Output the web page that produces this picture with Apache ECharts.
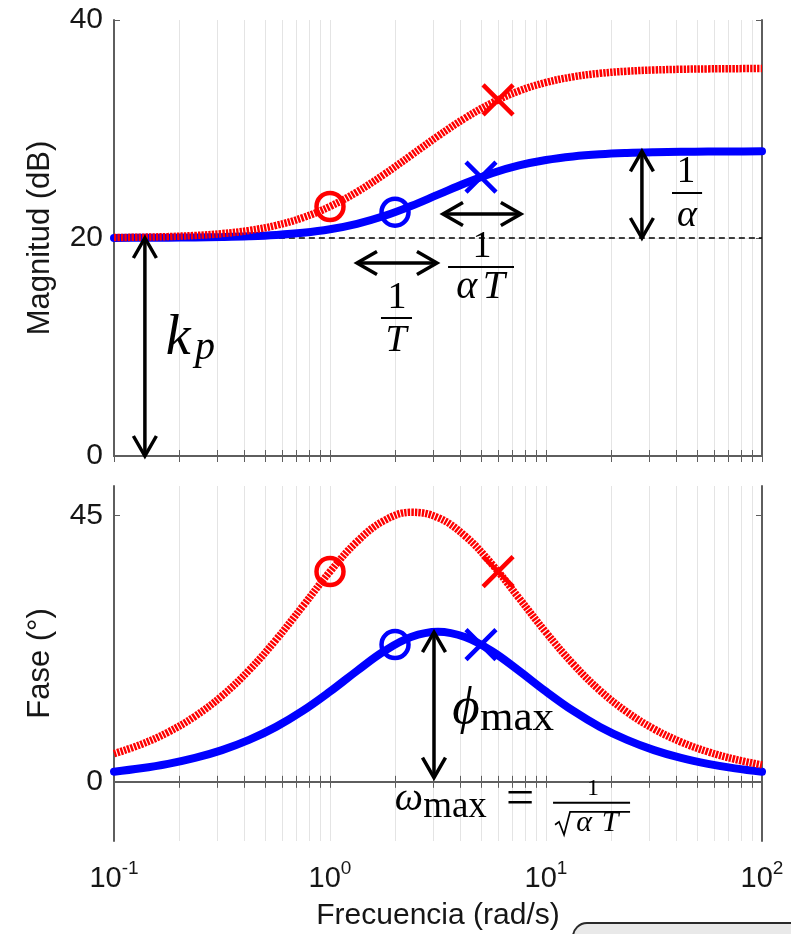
<!DOCTYPE html>
<html>
<head>
<meta charset="utf-8">
<script src="https://cdn.jsdelivr.net/npm/echarts@6/dist/echarts.min.js"></script>
<style>
  html, body { margin: 0; padding: 0; background: #fff; }
  #chart { width: 791px; height: 934px; }
</style>
</head>
<body>
<div id="chart"></div>
<script>
// ---- Frequency grid (rad/s), 8 samples per decade ----
const freq = [0.1, 0.13335, 0.17783, 0.23714, 0.31623, 0.42170, 0.56234, 0.74989,
  1, 1.3335, 1.7783, 2.3714, 3.1623, 4.2170, 5.6234, 7.4989,
  10, 13.335, 17.783, 23.714, 31.623, 42.170, 56.234, 74.989, 100];

// ---- Compensator A (blue): 1/T = 2, 1/(alpha T) = 5 ----
const magBlue = [20.009, 20.016, 20.029, 20.051, 20.090, 20.158, 20.276, 20.475,
  20.799, 21.299, 22.013, 22.932, 23.979, 25.029, 25.946, 26.660,
  27.160, 27.484, 27.683, 27.800, 27.869, 27.908, 27.930, 27.943, 27.950];
const phaseBlue = [1.716, 2.287, 3.044, 4.047, 5.366, 7.085, 9.288, 12.024,
  15.255, 18.76, 22.07, 24.49, 25.38, 24.48, 22.07, 18.77,
  15.26, 12.02, 9.28, 7.09, 5.36, 4.04, 3.04, 2.28, 1.71];

// ---- Compensator B (red): 1/T = 1, 1/(alpha T) = 6 ----
const magRed = [20.042, 20.074, 20.131, 20.231, 20.402, 20.689, 21.155, 21.870,
  22.891, 24.228, 25.828, 27.581, 29.349, 30.994, 32.397, 33.491,
  34.271, 34.786, 35.109, 35.302, 35.414, 35.479, 35.515, 35.536, 35.548];
const phaseRed = [4.756, 6.323, 8.385, 11.077, 14.531, 18.848, 24.000, 29.736,
  35.538, 40.60, 44.14, 45.56, 44.66, 41.56, 36.78, 31.06,
  25.25, 19.94, 15.42, 11.79, 8.93, 6.74, 5.07, 3.81, 2.86];

// ---- Corner frequencies: [zero (circle), pole (cross)] ----
const cornerFreqBlue = [2, 5];
const cornerMagBlue = [22.366, 25.593];
const cornerPhaseBlue = [23.20, 23.20];
const cornerFreqRed = [1, 6];
const cornerMagRed = [22.891, 32.672];
const cornerPhaseRed = [35.54, 35.54];

// ---- Static gain reference (dashed, 20 dB) ----
const refLineFreq = [0.145, 100];
const refLineMag = [20, 20];

// ---- Tick values ----
const decadeTicks = [0.1, 1, 10, 100];
const magTicks = [0, 20, 40];
const phaseTicks = [0, 45];
const logTicks = [];
[0.1, 1, 10].forEach(d => { for (let k = 1; k <= 9; k++) logTicks.push(+(d * k).toPrecision(3)); });
logTicks.push(100);

// ---- Annotation anchors (data units) ----
// arrows: [x1, y1, x2, y2]
const arrowsMag = [[0.139, 20, 0.139, 0], [27.8, 27.95, 27.8, 20], [1.333, 17.7, 3.127, 17.7], [3.334, 22.2, 7.65, 22.2]];
const arrowsPhase = [[3.03, 25.3, 3.03, 0.7]];
// text: [string, x, y(middle), fontSize, italic]
const annotationTextMag = [
  ['k', 0.198, 10.73, 56, true], ['p', 0.264, 9.87, 40, true],
  ['1', 44.5, 26.02, 37, false], ['α', 45.0, 22.02, 38, true],
  ['1', 2.04, 14.50, 38, false], ['T', 2.02, 10.55, 38, true],
  ['1', 5.05, 19.17, 38, false], ['α', 4.30, 15.50, 40, true], ['T', 5.74, 15.50, 40, true]
];
const annotationTextPhase = [
  ['ϕ', 4.26, 12.30, 53, true], ['max', 7.34, 10.72, 43, false],
  ['ω', 2.32, -2.93, 40, true], ['max', 3.79, -4.28, 37, false],
  ['=', 7.58, -3.3, 50, false], ['1', 16.5, -1.15, 24, false],
  ['α', 15.0, -6.91, 30, true], ['T', 19.79, -6.91, 30, true]
];
// fraction bars: [xStart, xEnd, y]
const fractionBarsMag = [[38.3, 52.8, 24.13], [1.722, 2.397, 12.66], [3.52, 7.11, 17.34]];
const fractionBarsPhase = [[10.78, 24.5, -3.54]];

const AXIS = '#5e5e5e';
const GRIDLINE = '#e4e4e4';
const TXT = '#161616';
const FONT = "'Liberation Sans', Arial, Helvetica, sans-serif";
const MATH = "'Liberation Serif', 'DejaVu Serif', serif";
const CROSS = 'path://M0,0L10,10M10,0L0,10';

function xAxisCfg(gridIndex, position, showLabels, name) {
  return {
    type: 'log', logBase: 10, min: 0.1, max: 100, gridIndex, position,
    axisLine: { show: true, lineStyle: { color: AXIS, width: 2 } },
    axisTick: { show: true, inside: true, length: 6, customValues: logTicks, lineStyle: { color: AXIS, width: 1 } },
    axisLabel: {
      show: showLabels, customValues: decadeTicks, margin: 18,
      formatter: v => '{b|10}{s|' + Math.round(Math.log10(v)) + '}',
      rich: {
        b: { fontSize: 29, fontFamily: FONT, color: TXT, verticalAlign: 'bottom', lineHeight: 34 },
        s: { fontSize: 19, fontFamily: FONT, color: TXT, verticalAlign: 'top', lineHeight: 34 }
      }
    },
    splitLine: { show: position === 'bottom', showMinLine: false, showMaxLine: false, lineStyle: { color: GRIDLINE, width: 1 } },
    name: name || '', nameLocation: 'middle', nameGap: 60,
    nameTextStyle: { fontSize: 30, fontFamily: FONT, color: TXT }
  };
}

function yAxisCfg(gridIndex, position, min, max, ticks, showLabels, name) {
  return {
    type: 'value', gridIndex, position, min, max,
    axisLine: { show: true, lineStyle: { color: AXIS, width: 2 } },
    axisTick: { show: true, inside: true, length: 6, customValues: ticks, lineStyle: { color: AXIS, width: 1 } },
    axisLabel: { show: showLabels, customValues: ticks, margin: 11, fontSize: 30, fontFamily: FONT, color: TXT },
    splitLine: { show: position === 'left', showMinLine: false, showMaxLine: false, lineStyle: { color: GRIDLINE, width: 1 } },
    name: name || '', nameLocation: 'middle', nameGap: 58,
    nameTextStyle: { fontSize: 31, fontFamily: FONT, color: TXT }
  };
}

const pairs = (xs, ys) => xs.map((x, i) => [x, ys[i]]);
const markerData = (xs, ys) => xs.map((x, i) => ({ value: [x, ys[i]], symbol: i === 0 ? 'circle' : CROSS, symbolSize: i === 0 ? 27 : 30 }));

function curve(xi, yi, data, color, dashed, z) {
  return {
    type: 'line', xAxisIndex: xi, yAxisIndex: yi, data, showSymbol: false, smooth: 0.4,
    silent: true, z,
    lineStyle: dashed ? { color, width: 7.5, type: [2.4, 1.1], cap: 'butt' } : { color, width: 8, cap: 'round' }
  };
}
function markers(xi, yi, data, color, z) {
  return {
    type: 'scatter', xAxisIndex: xi, yAxisIndex: yi, data, silent: true, z,
    itemStyle: { color: 'transparent', borderColor: color, borderWidth: 4.5, opacity: 1 }
  };
}

const option = {
  animation: false,
  backgroundColor: '#fff',
  grid: [
    { left: 114, top: 20, width: 648, height: 436 },
    { left: 114, top: 486, width: 648, height: 355 }
  ],
  xAxis: [
    xAxisCfg(0, 'bottom', false),
    xAxisCfg(0, 'top', false),
    xAxisCfg(1, 'bottom', true, 'Frecuencia (rad/s)'),
    xAxisCfg(1, 'top', false)
  ],
  yAxis: [
    yAxisCfg(0, 'left', 0, 40, magTicks, true, 'Magnitud (dB)'),
    yAxisCfg(0, 'right', 0, 40, magTicks, false),
    yAxisCfg(1, 'left', -10, 50, phaseTicks, true, 'Fase (°)'),
    yAxisCfg(1, 'right', -10, 50, phaseTicks, false)
  ],
  series: [
    {
      type: 'line', xAxisIndex: 0, yAxisIndex: 0, data: pairs(refLineFreq, refLineMag),
      showSymbol: false, silent: true, z: 2,
      lineStyle: { color: '#000', width: 1.6, type: [6, 4] }
    },
    curve(0, 0, pairs(freq, magBlue), '#0000ff', false, 3),
    curve(0, 0, pairs(freq, magRed), '#ff0000', true, 4),
    markers(0, 0, markerData(cornerFreqBlue, cornerMagBlue), '#0000ff', 5),
    markers(0, 0, markerData(cornerFreqRed, cornerMagRed), '#ff0000', 6),
    curve(2, 2, pairs(freq, phaseBlue), '#0000ff', false, 3),
    curve(2, 2, pairs(freq, phaseRed), '#ff0000', true, 4),
    markers(2, 2, markerData(cornerFreqBlue, cornerPhaseBlue), '#0000ff', 5),
    markers(2, 2, markerData(cornerFreqRed, cornerPhaseRed), '#ff0000', 6)
  ]
};

const chart = echarts.init(document.getElementById('chart'), null, { renderer: 'canvas' });
chart.setOption(option);

// ---- Annotations (arrows, math labels) placed through the axis scales ----
const finders = [{ xAxisIndex: 0, yAxisIndex: 0 }, { xAxisIndex: 2, yAxisIndex: 2 }];
const toPx = (g, x, y) => chart.convertToPixel(finders[g], [x, y]);
const els = [];

function head(tip, ux, uy) {
  const L = 20, W = 11.5, nx = -uy, ny = ux;
  return {
    type: 'polyline', z: 100, silent: true,
    shape: { points: [[tip[0] - ux * L + nx * W, tip[1] - uy * L + ny * W], tip, [tip[0] - ux * L - nx * W, tip[1] - uy * L - ny * W]] },
    style: { stroke: '#000', lineWidth: 3.5, fill: null, lineJoin: 'miter' }
  };
}
function addArrow(g, a) {
  const p1 = toPx(g, a[0], a[1]), p2 = toPx(g, a[2], a[3]);
  const dx = p2[0] - p1[0], dy = p2[1] - p1[1], len = Math.hypot(dx, dy);
  const ux = dx / len, uy = dy / len;
  els.push({ type: 'line', z: 100, silent: true, shape: { x1: p1[0], y1: p1[1], x2: p2[0], y2: p2[1] }, style: { stroke: '#000', lineWidth: 3.5 } });
  els.push(head(p2, ux, uy));
  els.push(head(p1, -ux, -uy));
}
function addText(g, t) {
  const p = toPx(g, t[1], t[2]);
  els.push({
    type: 'text', z: 100, silent: true, x: p[0], y: p[1],
    style: { text: t[0], font: (t[4] ? 'italic ' : '') + t[3] + 'px ' + MATH, fill: '#000', align: 'center', verticalAlign: 'middle' }
  });
}
function addBar(g, b) {
  const p1 = toPx(g, b[0], b[2]), p2 = toPx(g, b[1], b[2]);
  els.push({ type: 'line', z: 100, silent: true, shape: { x1: p1[0], y1: p1[1], x2: p2[0], y2: p2[1] }, style: { stroke: '#000', lineWidth: 2 } });
}

arrowsMag.forEach(a => addArrow(0, a));
arrowsPhase.forEach(a => addArrow(1, a));
annotationTextMag.forEach(t => addText(0, t));
annotationTextPhase.forEach(t => addText(1, t));
fractionBarsMag.forEach(b => addBar(0, b));
fractionBarsPhase.forEach(b => addBar(1, b));

// radical sign over the denominator of omega_max
(function () {
  const b = fractionBarsPhase[0];
  const s = toPx(1, b[0], b[2]), e = toPx(1, b[1], b[2]);
  const w = e[0] - s[0];
  els.push({
    type: 'polyline', z: 100, silent: true,
    shape: { points: [[s[0] + 2, s[1] + 22], [s[0] + 6, s[1] + 19], [s[0] + 11, s[1] + 32], [s[0] + 17, s[1] + 9], [s[0] + w, s[1] + 9]] },
    style: { stroke: '#000', lineWidth: 1.7, fill: null, lineJoin: 'miter' }
  });
})();

// rounded callout box peeking in at the lower right
els.push({
  type: 'rect', z: 90, silent: true,
  shape: { x: 573, y: 923, width: 260, height: 60, r: 14 },
  style: { fill: '#e9e9e9', stroke: '#2a2a2a', lineWidth: 2 }
});

chart.setOption({ graphic: els });
</script>
</body>
</html>
